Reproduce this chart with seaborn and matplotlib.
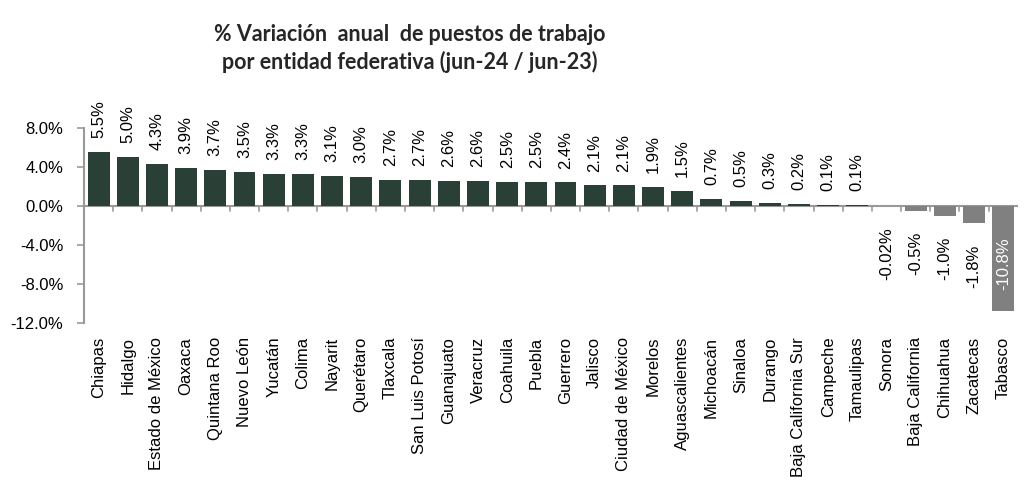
import matplotlib
matplotlib.use("Agg")
import matplotlib.pyplot as plt
import seaborn as sns
import pandas as pd
from matplotlib.ticker import FixedLocator

states = ["Chiapas", "Hidalgo", "Estado de México", "Oaxaca", "Quintana Roo",
          "Nuevo León", "Yucatán", "Colima", "Nayarit", "Querétaro", "Tlaxcala",
          "San Luis Potosí", "Guanajuato", "Veracruz", "Coahuila", "Puebla",
          "Guerrero", "Jalisco", "Ciudad de México", "Morelos", "Aguascalientes",
          "Michoacán", "Sinaloa", "Durango", "Baja California Sur", "Campeche",
          "Tamaulipas", "Sonora", "Baja California", "Chihuahua", "Zacatecas",
          "Tabasco"]
values = [5.5, 5.0, 4.3, 3.9, 3.7, 3.5, 3.3, 3.3, 3.1, 3.0, 2.7, 2.7, 2.6, 2.6,
          2.5, 2.5, 2.4, 2.1, 2.1, 1.9, 1.5, 0.7, 0.5, 0.3, 0.2, 0.1, 0.1,
          -0.02, -0.5, -1.0, -1.8, -10.8]
value_labels = ["5.5%", "5.0%", "4.3%", "3.9%", "3.7%", "3.5%", "3.3%", "3.3%",
                "3.1%", "3.0%", "2.7%", "2.7%", "2.6%", "2.6%", "2.5%", "2.5%",
                "2.4%", "2.1%", "2.1%", "1.9%", "1.5%", "0.7%", "0.5%", "0.3%",
                "0.2%", "0.1%", "0.1%", "-0.02%", "-0.5%", "-1.0%", "-1.8%",
                "-10.8%"]
y_ticks = [-12, -8, -4, 0, 4, 8]
y_tick_labels = ["-12.0%", "-8.0%", "-4.0%", "0.0%", "4.0%", "8.0%"]

POS = "#2A3F36"
NEG = "#808080"
AXC = "#999999"
FS = 12

sns.set_theme(style="white")
plt.rcParams["font.family"] = ["Liberation Sans", "DejaVu Sans"]

df = pd.DataFrame({"state": states, "value": values})
df["sign"] = ["pos" if v >= 0 else "neg" for v in values]

fig = plt.figure(figsize=(10.24, 4.9), dpi=100)
ax = fig.add_axes([0.082, 0.341, 0.912, 0.398])

sns.barplot(data=df, x="state", y="value", hue="sign",
            palette={"pos": POS, "neg": NEG}, width=0.75, legend=False,
            ax=ax, saturation=1, edgecolor="none", zorder=3)

ax.set_xlim(-0.5, len(states) - 0.5)
ax.set_ylim(-12, 8)
ax.yaxis.set_major_locator(FixedLocator(y_ticks))
ax.set_yticklabels(y_tick_labels, fontsize=FS, color="black")
ax.set_xlabel("")
ax.set_ylabel("")

# category labels (rotated) and boundary tick marks
ax.set_xticks(range(len(states)))
ax.set_xticklabels(states, rotation=90, fontsize=FS, color="black",
                   va="top", ha="center")
ax.tick_params(axis="x", length=0, pad=10)
for b in range(1, len(states)):
    ax.plot([b - 0.5, b - 0.5], [0, -0.5], color=AXC, lw=1.2,
            clip_on=False, zorder=1)

ax.tick_params(axis="y", length=5, width=1.2, color=AXC, left=True, pad=10)

for s in ["top", "right", "bottom"]:
    ax.spines[s].set_visible(False)
ax.spines["left"].set_color(AXC)
ax.spines["left"].set_linewidth(1.5)
ax.axhline(0, color=AXC, lw=1.5, zorder=1)

for i, (v, lab) in enumerate(zip(values, value_labels)):
    if v >= 0:
        ax.annotate(lab, (i, v), xytext=(0, 10), textcoords="offset points",
                    rotation=90, ha="center", va="bottom", fontsize=FS,
                    color="black", zorder=4)
    elif v > -5:
        ax.annotate(lab, (i, v), xytext=(0, -15), textcoords="offset points",
                    rotation=90, ha="center", va="top", fontsize=FS,
                    color="black", zorder=4)
    else:
        ax.annotate(lab, (i, v), xytext=(0, 15), textcoords="offset points",
                    rotation=90, ha="center", va="bottom", fontsize=FS,
                    color="white", zorder=4)

fig.text(0.40, 0.929, "% Variación  anual  de puestos de trabajo",
         ha="center", va="center", fontsize=15.5, fontweight="bold",
         family=["Lato", "DejaVu Sans"])
fig.text(0.40, 0.873, "por entidad federativa (jun-24 / jun-23)",
         ha="center", va="center", fontsize=15.5, fontweight="bold",
         family=["Lato", "DejaVu Sans"])

fig.savefig("out.png", dpi=100, facecolor="white")
